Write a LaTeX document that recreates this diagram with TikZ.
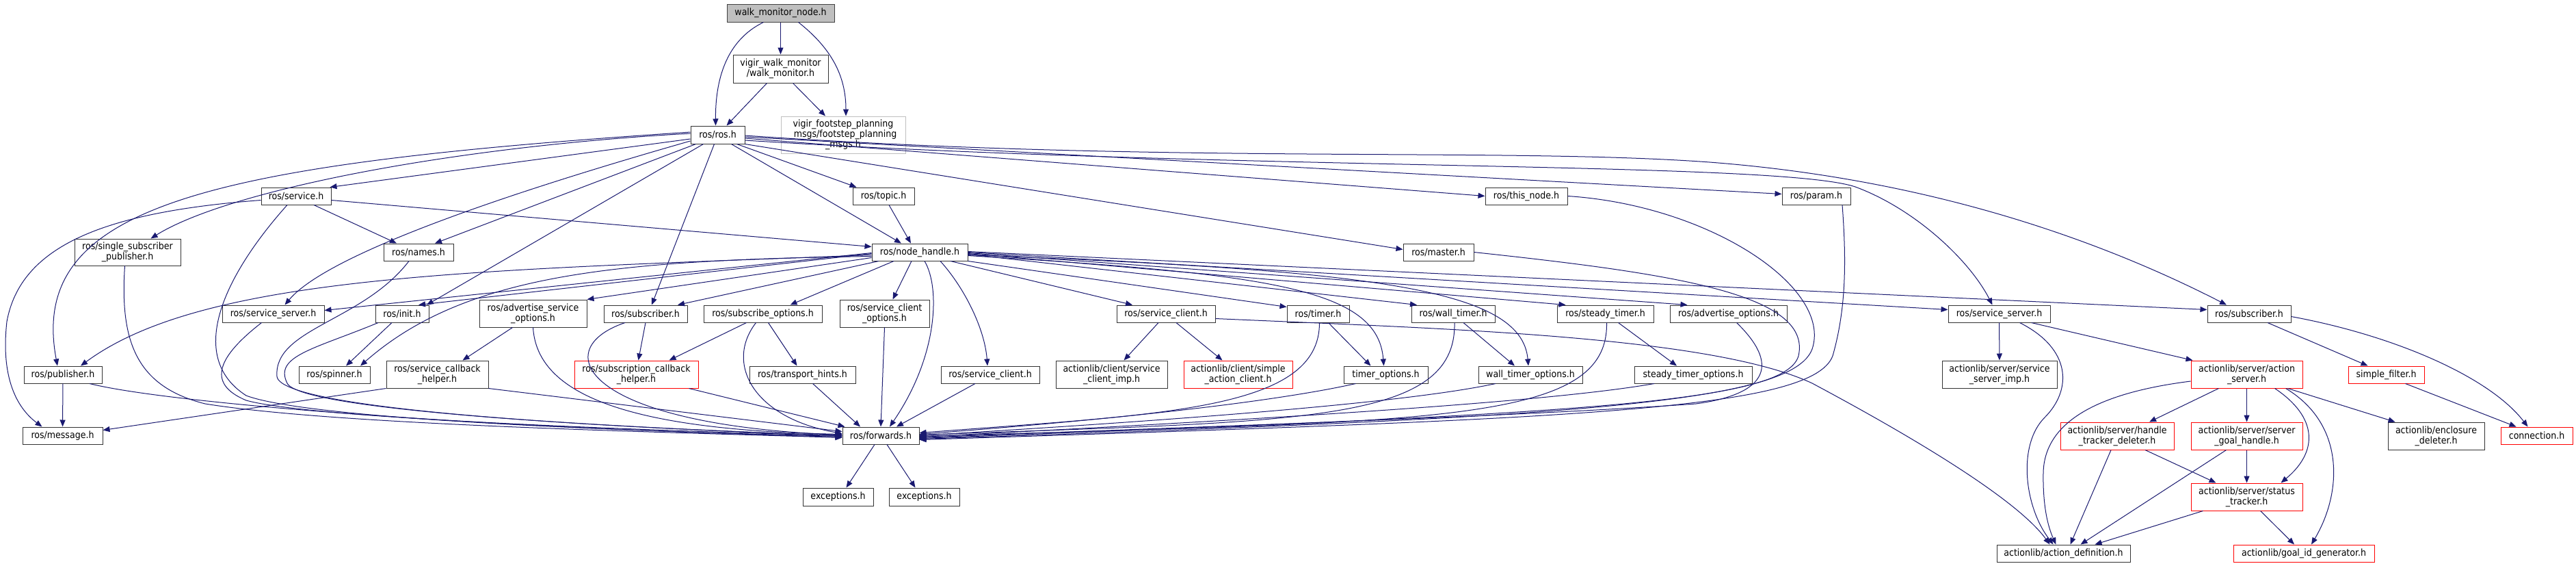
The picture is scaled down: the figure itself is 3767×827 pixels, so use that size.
\documentclass[tikz,border=0pt]{standalone}
\usepackage{fontspec}
\setmainfont{DejaVu Sans Condensed}
\usetikzlibrary{arrows.meta}
\definecolor{edgec}{HTML}{191970}
\definecolor{rootfill}{HTML}{BFBFBF}
\newcommand\nodefont{\fontsize{14}{15}\selectfont}
\tikzset{
  box/.style={draw=black!80, fill=white, line width=1pt, inner sep=0pt, align=center, font=\nodefont},
  redbox/.style={box, draw=red},
  greybox/.style={box, draw=rootfill},
  rootbox/.style={box, fill=rootfill, draw=black!75},
  sz/.style 2 args={minimum width=#1pt, minimum height=#2pt},
  edge/.style={draw=edgec, line width=1pt, -{Triangle[length=10pt,width=8pt]}}
}
\begin{document}
\begin{tikzpicture}[x=1pt,y=-1pt]
\path[use as bounding box, fill=white] (0,0) rectangle (3767,827);
% nodes
\node[rootbox, sz={157}{26}] (wmn) at (1141.5,19) {walk\_monitor\_node.h};
\node[box, sz={139}{41}] (wm) at (1141.5,100.5) {vigir\_walk\_monitor\\/walk\_monitor.h};
\node[box, sz={79}{26}] (ros) at (1049.5,197) {ros/ros.h};
\node[greybox, sz={182}{54}] (fsp) at (1233,197) {vigir\_footstep\_planning\\\_msgs/footstep\_planning\\\_msgs.h};
\node[box, sz={102}{25}] (service) at (433,286.5) {ros/service.h};
\node[box, sz={155}{39}] (ssp) at (186.5,368.5) {ros/single\_subscriber\\\_publisher.h};
\node[box, sz={102}{25}] (names) at (612,368.5) {ros/names.h};
\node[box, sz={90}{25}] (topic) at (1292,286.5) {ros/topic.h};
\node[box, sz={140}{25}] (nh) at (1345,368.5) {ros/node\_handle.h};
\node[box, sz={120}{25}] (thisnode) at (2232,286.5) {ros/this\_node.h};
\node[box, sz={103}{25}] (master) at (2103.5,368.5) {ros/master.h};
\node[box, sz={100}{25}] (param) at (2656,286.5) {ros/param.h};
\node[box, sz={149}{25}] (ssL) at (399.5,458.5) {ros/service\_server.h};
\node[box, sz={78}{25}] (init) at (588,458.5) {ros/init.h};
\node[box, sz={114}{25}] (pub) at (92,547.5) {ros/publisher.h};
\node[box, sz={104}{25}] (spinner) at (489,547.5) {ros/spinner.h};
\node[box, sz={117}{25}] (msg) at (91.5,636.5) {ros/message.h};
\node[box, sz={149}{40}] (scbh) at (639.5,547) {ros/service\_callback\\\_helper.h};
\node[box, sz={157}{40}] (aso) at (779.5,458) {ros/advertise\_service\\\_options.h};
\node[box, sz={122}{25}] (subL) at (944,458.5) {ros/subscriber.h};
\node[box, sz={173}{25}] (subopt) at (1115.5,458.5) {ros/subscribe\_options.h};
\node[box, sz={131}{40}] (sco) at (1293.5,458) {ros/service\_client\\\_options.h};
\node[redbox, sz={181}{40}] (subcbh) at (930.5,547) {ros/subscription\_callback\\\_helper.h};
\node[box, sz={155}{25}] (th) at (1173.5,547.5) {ros/transport\_hints.h};
\node[box, sz={112}{25}] (fwd) at (1288,636.5) {ros/forwards.h};
\node[box, sz={103}{26}] (excL) at (1225.5,726) {exceptions.h};
\node[box, sz={103}{26}] (excR) at (1351.5,726) {exceptions.h};
\node[box, sz={144}{25}] (sc1) at (1448,547.5) {ros/service\_client.h};
\node[box, sz={144}{25}] (sc2) at (1705,458.5) {ros/service\_client.h};
\node[box, sz={163}{40}] (scimp) at (1625.5,547) {actionlib/client/service\\\_client\_imp.h};
\node[redbox, sz={159}{40}] (sac) at (1810.5,547) {actionlib/client/simple\\\_action\_client.h};
\node[box, sz={91}{25}] (timer) at (1927.5,458.5) {ros/timer.h};
\node[box, sz={122}{25}] (wtimer) at (2125,458.5) {ros/wall\_timer.h};
\node[box, sz={141}{25}] (stimer) at (2347.5,458.5) {ros/steady\_timer.h};
\node[box, sz={171}{25}] (advopt) at (2527.5,458.5) {ros/advertise\_options.h};
\node[box, sz={123}{25}] (topt) at (2026.5,547.5) {timer\_options.h};
\node[box, sz={152}{25}] (wtopt) at (2238,547.5) {wall\_timer\_options.h};
\node[box, sz={172}{25}] (stopt) at (2476,547.5) {steady\_timer\_options.h};
\node[box, sz={149}{25}] (ssR) at (2923.5,458.5) {ros/service\_server.h};
\node[box, sz={168}{40}] (ssimp) at (2924,547) {actionlib/server/service\\\_server\_imp.h};
\node[box, sz={195}{25}] (actdef) at (3017.5,808.5) {actionlib/action\_definition.h};
\node[redbox, sz={166}{40}] (htd) at (3096,637) {actionlib/server/handle\\\_tracker\_deleter.h};
\node[box, sz={122}{25}] (subR) at (3289,458.5) {ros/subscriber.h};
\node[redbox, sz={163}{40}] (actsrv) at (3285.5,547) {actionlib/server/action\\\_server.h};
\node[redbox, sz={111}{25}] (sfilter) at (3489.5,547.5) {simple\_filter.h};
\node[redbox, sz={163}{40}] (sgh) at (3285.5,637) {actionlib/server/server\\\_goal\_handle.h};
\node[box, sz={141}{40}] (encdel) at (3562.5,637) {actionlib/enclosure\\\_deleter.h};
\node[redbox, sz={105}{25}] (conn) at (3709.5,636.5) {connection.h};
\node[redbox, sz={163}{40}] (stat) at (3285.5,726) {actionlib/server/status\\\_tracker.h};
\node[redbox, sz={206}{25}] (goalid) at (3369,808.5) {actionlib/goal\_id\_generator.h};
% top edges
\draw[edge] ([xshift=-25pt]wmn.south) .. controls (1060,60) and (1046,120) .. ([xshift=-3pt]ros.north);
\draw[edge] (wmn) -- (wm);
\draw[edge] ([xshift=26pt]wmn.south) .. controls (1215,70) and (1237,110) .. ([xshift=4pt]fsp.north);
\draw[edge] ([xshift=-20pt]wm.south) -- ([xshift=13pt]ros.north);
\draw[edge] ([xshift=18pt]wm.south) -- ([xshift=-26pt]fsp.north);
% ros.h
\draw[edge] ([yshift=-6pt]ros.west) -- ([xshift=-2pt]service.north east);
\draw[edge] ([yshift=2pt]ros.west) .. controls (650,215) and (330,280) .. ([xshift=34pt]ssp.north);
\draw[edge] ([yshift=4pt]ros.west) .. controls (300,240) and (40,300) .. ([xshift=-8pt]pub.north);
\draw[edge] ([xshift=-32pt]ros.south) -- ([xshift=24pt]names.north);
\draw[edge] ([yshift=-9pt]ros.west) .. controls (750,280) and (480,370) .. ([xshift=17pt]ssL.north);
\draw[edge] ([xshift=-21pt]ros.south) -- ([xshift=36pt]init.north);
\draw[edge] ([xshift=-5pt]ros.south) -- ([xshift=9pt]subL.north);
\draw[edge] ([xshift=20pt]ros.south) -- ([xshift=-27pt]nh.north);
\draw[edge] ([xshift=28pt]ros.south) -- ([xshift=6pt]topic.north west);
\draw[edge] ([xshift=8pt]topic.south) -- ([xshift=-13pt]nh.north);
\draw[edge] ([yshift=-5pt]ros.east) -- (thisnode.west);
\draw[edge] (ros.south east) -- ([yshift=4pt]master.west);
\draw[edge] ([yshift=-3pt]ros.east) -- ([yshift=3pt]param.west);
\draw[edge] ([yshift=-8pt]ros.east) .. controls (1800,250) and (2600,235) .. (2713,273) .. controls (2800,305) and (2880,380) .. ([xshift=-10pt]ssR.north);
\draw[edge] ([yshift=-1pt]ros.east) .. controls (1700,240) and (2200,215) .. (2500,237) .. controls (2800,260) and (3050,340) .. ([xshift=-33pt]subR.north);
% service.h
\draw[edge] ([yshift=-6pt]service.east) -- ([yshift=8pt]nh.west);
\draw[edge] ([xshift=26pt]service.south) -- ([xshift=-32pt]names.north);
\draw[edge] ([yshift=-6pt]service.west) .. controls (150,310) and (30,360) .. (10,470) .. controls (0,560) and (30,600) .. ([xshift=-30pt]msg.north);
\draw[edge] ([xshift=-13pt]service.south) .. controls (330,400) and (270,520) .. (360,578) .. controls (450,612) and (900,630) .. ([yshift=-1pt]fwd.west);
% node_handle.h
\draw[edge] ([yshift=-4pt]nh.west) .. controls (700,395) and (300,400) .. ([xshift=26pt]pub.north);
\draw[edge] ([yshift=-1pt]nh.west) -- ([yshift=5pt]ssL.east);
\draw[edge] ([yshift=-2pt]nh.west) -- ([xshift=24pt]init.north);
\draw[edge] ([yshift=-6pt]nh.west) .. controls (900,380) and (680,400) .. ([xshift=38pt]spinner.north);
\draw[edge] ([yshift=-8pt]nh.west) -- (aso.north east);
\draw[edge] ([xshift=-60pt]nh.south) -- ([xshift=47pt]subL.north);
\draw[edge] ([xshift=-38pt]nh.south) -- ([xshift=40pt]subopt.north);
\draw[edge] ([xshift=-12pt]nh.south) -- ([xshift=12pt]sco.north);
\draw[edge] ([xshift=7pt]nh.south) .. controls (1375,420) and (1372,520) .. ([xshift=13pt]fwd.north);
\draw[edge] ([xshift=30pt]nh.south) .. controls (1410,420) and (1440,480) .. ([xshift=-4pt]sc1.north);
\draw[edge] ([xshift=45pt]nh.south) -- ([xshift=-49pt]sc2.north);
\draw[edge] (nh.south east) -- ([yshift=10pt]timer.west);
\draw[edge] ([yshift=-5pt]nh.east) .. controls (1850,400) and (2015,420) .. ([xshift=-3pt]topt.north);
\draw[edge] ([yshift=-4pt]nh.east) .. controls (2000,395) and (2225,420) .. ([xshift=-3pt]wtopt.north);
\draw[edge] ([yshift=-3pt]nh.east) -- ([xshift=-53pt]wtimer.north);
\draw[edge] ([yshift=-2pt]nh.east) -- ([xshift=-58pt]stimer.north);
\draw[edge] ([yshift=-1pt]nh.east) -- ([xshift=-60pt]advopt.north);
\draw[edge] (nh.east) -- ([yshift=6pt]ssR.west);
\draw[edge] ([yshift=1pt]nh.east) -- ([yshift=6pt]subR.west);
% left cluster
\draw[edge] ([xshift=-4pt]ssp.south) .. controls (175,500) and (200,565) .. (300,590) .. controls (500,622) and (1000,632) .. ([yshift=-3pt]fwd.west);
\draw[edge] (pub) -- (msg);
\draw[edge] ([xshift=39pt]pub.south) .. controls (250,590) and (700,625) .. ([yshift=-2pt]fwd.west);
\draw[edge] ([xshift=-14pt]names.south) .. controls (530,470) and (400,480) .. (405,550) .. controls (410,600) and (900,625) .. (fwd.west);
\draw[edge] ([xshift=-35pt]init.south) .. controls (460,510) and (400,520) .. (420,560) .. controls (440,600) and (900,625) .. (fwd.west);
\draw[edge] ([xshift=-15pt]init.south) -- ([xshift=17pt]spinner.north);
\draw[edge] ([xshift=-17pt]ssL.south) .. controls (320,520) and (300,560) .. (360,585) .. controls (450,610) and (900,628) .. (fwd.west);
\draw[edge] (scbh.south west) -- ([yshift=8pt]msg.east);
\draw[edge] (scbh.south east) -- ([yshift=6pt]fwd.west);
\draw[edge] ([xshift=-30pt]aso.south) -- ([xshift=37pt]scbh.north);
\draw[edge] (aso.south) .. controls (785,570) and (900,628) .. ([yshift=2pt]fwd.west);
\draw[edge] (subL.south) -- ([xshift=3pt]subcbh.north);
\draw[edge] ([xshift=-30pt]subL.south) .. controls (800,510) and (850,620) .. ([yshift=1pt]fwd.west);
\draw[edge] ([xshift=-24pt]subopt.south) -- ([xshift=48pt]subcbh.north);
\draw[edge] ([xshift=8pt]subopt.south) -- ([xshift=-8pt]th.north);
\draw[edge] ([xshift=-10pt]subopt.south) .. controls (1060,530) and (1100,610) .. ([yshift=3pt]fwd.west);
\draw[edge] ([xshift=15pt]th.south) -- ([xshift=-30pt]fwd.north);
\draw[edge] ([xshift=77pt]subcbh.south) -- ([xshift=4pt]fwd.north west);
\draw[edge] (sco.south) -- (fwd.north);
\draw[edge] ([xshift=-22pt]sc1.south) -- ([xshift=23pt]fwd.north);
\draw[edge] ([xshift=-9pt]fwd.south) -- ([xshift=12pt]excL.north);
\draw[edge] ([xshift=9pt]fwd.south) -- ([xshift=-13pt]excR.north);
% service_client
\draw[edge] ([xshift=-11pt]sc2.south) -- ([xshift=18pt]scimp.north);
\draw[edge] ([xshift=15pt]sc2.south) -- ([xshift=-23pt]sac.north);
\draw[edge] ([yshift=-7pt]sc2.east) .. controls (2100,480) and (2500,490) .. (2650,560) .. controls (2800,640) and (2950,730) .. ([xshift=-20pt]actdef.north);
% timers
\draw[edge] ([xshift=15pt]timer.south) -- ([xshift=-22pt]topt.north);
\draw[edge] ([xshift=2pt]timer.south) .. controls (1930,600) and (1700,605) .. ([yshift=4pt]fwd.east);
\draw[edge] ([xshift=-44pt]topt.south) .. controls (1850,590) and (1600,615) .. ([yshift=2pt]fwd.east);
\draw[edge] ([xshift=15pt]wtimer.south) -- ([xshift=-23pt]wtopt.north);
\draw[edge] ([xshift=2pt]wtimer.south) .. controls (2130,620) and (1900,615) .. ([yshift=1pt]fwd.east);
\draw[edge] ([xshift=-51pt]wtopt.south) .. controls (2050,590) and (1700,615) .. (fwd.east);
\draw[edge] ([xshift=19pt]stimer.south) -- ([xshift=-24pt]stopt.north);
\draw[edge] ([xshift=2pt]stimer.south) .. controls (2352,620) and (2100,615) .. ([yshift=-1pt]fwd.east);
\draw[edge] ([xshift=-57pt]stopt.south) .. controls (2250,590) and (1800,615) .. ([yshift=-2pt]fwd.east);
\draw[edge] ([xshift=12pt]advopt.south) .. controls (2600,530) and (2590,575) .. (2480,590) .. controls (2200,610) and (1700,625) .. ([yshift=-3pt]fwd.east);
\draw[edge] (master.east) .. controls (2450,400) and (2650,430) .. (2630,520) .. controls (2610,590) and (2300,605) .. ([yshift=-4pt]fwd.east);
\draw[edge] (thisnode.east) .. controls (2500,300) and (2680,420) .. (2650,510) .. controls (2620,590) and (2300,610) .. ([yshift=-5pt]fwd.east);
\draw[edge] ([xshift=38pt]param.south) .. controls (2700,380) and (2700,450) .. (2680,520) .. controls (2650,600) and (2300,612) .. ([yshift=-6pt]fwd.east);
% actionlib server
\draw[edge] (ssR) -- (ssimp);
\draw[edge] ([xshift=30pt]ssR.south) .. controls (3030,510) and (3030,570) .. (2990,610) .. controls (2950,650) and (2960,740) .. ([xshift=-15pt]actdef.north);
\draw[edge] ([xshift=47pt]ssR.south) -- ([xshift=3pt]actsrv.north west);
\draw[edge] ([yshift=-10pt]actsrv.west) .. controls (3060,575) and (2990,620) .. (2988,690) .. controls (2987,740) and (2995,770) .. ([xshift=-11pt]actdef.north);
\draw[edge] ([xshift=-41pt]actsrv.south) -- ([xshift=47pt]htd.north);
\draw[edge] (actsrv) -- (sgh);
\draw[edge] ([xshift=41pt]actsrv.south) .. controls (3390,610) and (3390,660) .. ([xshift=50pt]stat.north);
\draw[edge] ([xshift=57pt]actsrv.south) .. controls (3430,620) and (3425,720) .. ([xshift=11pt]goalid.north);
\draw[edge] ([xshift=60pt]actsrv.south) -- ([xshift=-60pt]encdel.north);
\draw[edge] ([xshift=41pt]htd.south) -- ([xshift=-45pt]stat.north);
\draw[edge] ([xshift=-9pt]htd.south) -- ([xshift=10pt]actdef.north);
\draw[edge] (sgh) -- (stat);
\draw[edge] ([xshift=-30pt]sgh.south) -- ([xshift=25pt]actdef.north);
\draw[edge] ([xshift=20pt]stat.south) -- ([xshift=-14pt]goalid.north);
\draw[edge] ([xshift=-64pt]stat.south) -- ([xshift=46pt]actdef.north);
% subscriber right
\draw[edge] ([xshift=27pt]subR.south) -- ([xshift=-27pt]sfilter.north);
\draw[edge] ([yshift=-4pt]subR.east) .. controls (3500,490) and (3640,550) .. ([xshift=-13pt]conn.north);
\draw[edge] ([xshift=28pt]sfilter.south) -- ([xshift=-30pt]conn.north);
\end{tikzpicture}
\end{document}
